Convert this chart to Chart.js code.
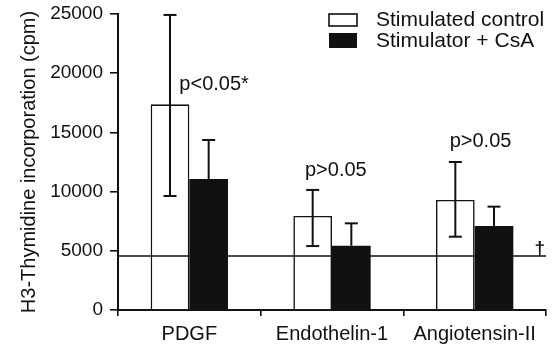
<!DOCTYPE html>
<html lang="en">
<head>
  <meta charset="UTF-8" />
  <title>H3-Thymidine incorporation</title>
  <script src="https://cdn.jsdelivr.net/npm/chart.js"></script>
  <style>
    * { box-sizing: border-box; }
    body {
      margin: 0;
      background: #ffffff;
    }
    canvas { display: block; }
  </style>
</head>
<body>
  <canvas id="thymidineChart" width="557" height="348"></canvas>

  <script>
    // ---- data ----
    const categories   = ['PDGF', 'Endothelin-1', 'Angiotensin-II'];
    const controlMean  = [17370, 7940, 9290];
    const controlLow   = [9630, 5400, 6190];
    const controlHigh  = [24920, 10140, 12500];
    const csaMean      = [11060, 5430, 7100];
    const csaHigh      = [14360, 7320, 8730];
    const baselineLevel = 4560;
    const yTicks = [0, 5000, 10000, 15000, 20000, 25000];
    const pLabels = ['p<0.05*', 'p>0.05', 'p>0.05'];
    const pLabelLevel = [18580, 11320, 13770];

    const FONT = "'Liberation Sans', Arial, Helvetica, sans-serif";
    const INK = '#111111';

    // whiskers, reference line, p-values, dagger and legend
    const extras = {
      id: 'extras',
      afterDatasetsDraw(chart) {
        const { ctx, chartArea, scales: { x, y } } = chart;
        const cap = 6.5;
        const seg = (x1, y1, x2, y2) => {
          ctx.beginPath(); ctx.moveTo(x1, y1); ctx.lineTo(x2, y2); ctx.stroke();
        };
        ctx.save();
        ctx.strokeStyle = INK;
        ctx.lineWidth = 2;

        // control: full whisker through the open bar
        chart.getDatasetMeta(0).data.forEach((bar, i) => {
          const lo = y.getPixelForValue(controlLow[i]);
          const hi = y.getPixelForValue(controlHigh[i]);
          seg(bar.x, lo, bar.x, hi);
          seg(bar.x - cap, lo, bar.x + cap, lo);
          seg(bar.x - cap, hi, bar.x + cap, hi);
        });
        // CsA: only the upper half shows above the solid bar
        chart.getDatasetMeta(1).data.forEach((bar, i) => {
          const top = y.getPixelForValue(csaMean[i]);
          const hi = y.getPixelForValue(csaHigh[i]);
          seg(bar.x, top, bar.x, hi);
          seg(bar.x - cap, hi, bar.x + cap, hi);
        });

        // unstimulated reference line
        const yb = y.getPixelForValue(baselineLevel);
        ctx.lineWidth = 1.6;
        seg(chartArea.left, yb, chartArea.right, yb);

        ctx.fillStyle = INK;
        ctx.textBaseline = 'alphabetic';
        ctx.font = 'bold 19px ' + FONT;
        ctx.textAlign = 'right';
        ctx.fillText('\u2020', chartArea.right - 1, yb - 2);

        // p-values
        const dx = [-10, -27, -25];
        ctx.font = '20px ' + FONT;
        ctx.textAlign = 'left';
        pLabels.forEach((t, i) => {
          ctx.fillText(t, x.getPixelForValue(i) + dx[i], y.getPixelForValue(pLabelLevel[i]));
        });

        // legend
        ctx.lineWidth = 1.6;
        ctx.fillStyle = '#ffffff';
        ctx.fillRect(329, 14, 28, 12);
        ctx.strokeRect(329, 14, 28, 12);
        ctx.fillStyle = INK;
        ctx.fillRect(329, 33, 28, 15);
        ctx.font = '21px ' + FONT;
        ctx.textBaseline = 'middle';
        ctx.fillText('Stimulated control', 376, 20);
        ctx.fillText('Stimulator + CsA', 376, 41);
        ctx.restore();
      }
    };

    new Chart(document.getElementById('thymidineChart'), {
      type: 'bar',
      data: {
        labels: categories,
        datasets: [
          {
            label: 'Stimulated control',
            data: controlMean,
            backgroundColor: '#ffffff',
            borderColor: INK,
            borderWidth: 1.6,
            borderSkipped: 'bottom'
          },
          {
            label: 'Stimulator + CsA',
            data: csaMean,
            backgroundColor: INK,
            borderColor: INK,
            borderWidth: 0
          }
        ]
      },
      options: {
        responsive: false,
        animation: false,
        devicePixelRatio: 1,
        categoryPercentage: 0.542,
        barPercentage: 1,
        layout: { padding: { top: 14, right: 11, left: 0, bottom: 0 } },
        plugins: {
          legend: { display: false },
          tooltip: { enabled: false }
        },
        scales: {
          x: {
            offset: true,
            grid: { display: true, offset: true, drawOnChartArea: false, tickLength: 6, color: INK, lineWidth: 1.6 },
            border: { display: true, color: INK, width: 2 },
            ticks: { color: INK, font: { family: FONT, size: 20 }, padding: 6, maxRotation: 0 },
            afterFit(scale) { scale.height = 38; scale.paddingLeft = 0; scale.paddingRight = 0; }
          },
          y: {
            min: 0,
            max: 25000,
            afterBuildTicks(scale) { scale.ticks = yTicks.map(v => ({ value: v })); },
            grid: { display: true, drawOnChartArea: false, tickLength: 8, color: INK, lineWidth: 1.6 },
            border: { display: true, color: INK, width: 2 },
            ticks: {
              color: INK,
              font: { family: FONT, size: 19 },
              padding: 7,
              callback: v => String(v)
            },
            title: {
              display: true,
              text: 'H3-Thymidine incorporation (cpm)',
              color: INK,
              font: { family: FONT, size: 20 },
              padding: { top: 17, bottom: 0 }
            },
            afterFit(scale) { scale.width = 118; scale.paddingTop = 0; scale.paddingBottom = 0; }
          }
        }
      },
      plugins: [extras]
    });
  </script>
</body>
</html>
